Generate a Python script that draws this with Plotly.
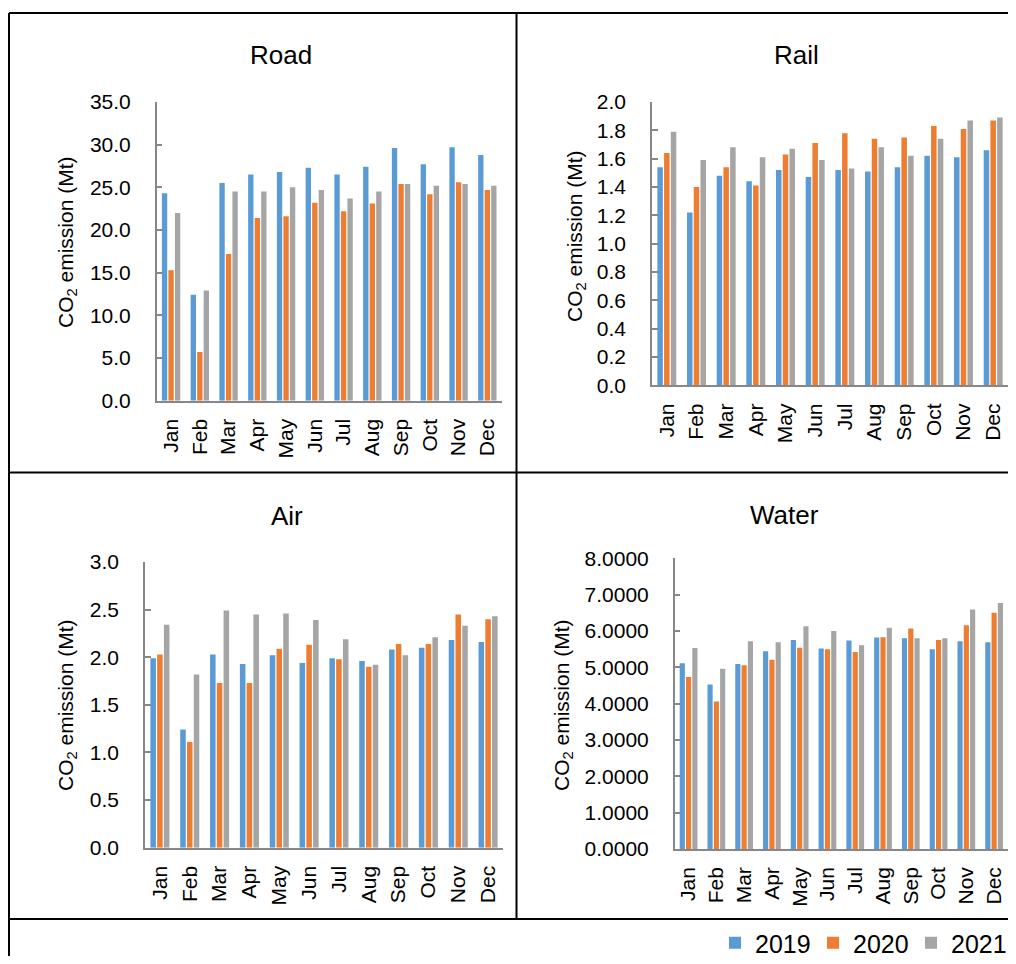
import plotly.graph_objects as go

months = ['Jan', 'Feb', 'Mar', 'Apr', 'May', 'Jun', 'Jul', 'Aug', 'Sep', 'Oct', 'Nov', 'Dec']
years = ['2019', '2020', '2021']

road_2019 = [24.3, 12.4, 25.5, 26.5, 26.8, 27.3, 26.5, 27.4, 29.6, 27.7, 29.7, 28.8]
road_2020 = [15.3, 5.7, 17.2, 21.4, 21.6, 23.2, 22.2, 23.1, 25.4, 24.2, 25.6, 24.7]
road_2021 = [22.0, 12.9, 24.5, 24.5, 25.0, 24.7, 23.7, 24.5, 25.4, 25.2, 25.4, 25.2]

rail_2019 = [1.54, 1.22, 1.48, 1.44, 1.52, 1.47, 1.52, 1.51, 1.54, 1.62, 1.61, 1.66]
rail_2020 = [1.64, 1.40, 1.54, 1.41, 1.63, 1.71, 1.78, 1.74, 1.75, 1.83, 1.81, 1.87]
rail_2021 = [1.79, 1.59, 1.68, 1.61, 1.67, 1.59, 1.53, 1.68, 1.62, 1.74, 1.87, 1.89]

air_2019 = [1.99, 1.24, 2.03, 1.93, 2.02, 1.94, 1.99, 1.96, 2.08, 2.10, 2.18, 2.16]
air_2020 = [2.03, 1.11, 1.73, 1.73, 2.09, 2.13, 1.98, 1.90, 2.14, 2.14, 2.45, 2.40]
air_2021 = [2.34, 1.82, 2.49, 2.45, 2.46, 2.39, 2.19, 1.92, 2.02, 2.21, 2.33, 2.43]

water_2019 = [5.11, 4.53, 5.09, 5.44, 5.75, 5.52, 5.74, 5.82, 5.80, 5.50, 5.72, 5.69]
water_2020 = [4.73, 4.06, 5.06, 5.21, 5.54, 5.50, 5.42, 5.83, 6.07, 5.75, 6.16, 6.50]
water_2021 = [5.53, 4.96, 5.72, 5.69, 6.13, 6.00, 5.61, 6.09, 5.80, 5.80, 6.59, 6.77]

panels = [
    ('Road', [road_2019, road_2020, road_2021], 35, 5, '.1f'),
    ('Rail', [rail_2019, rail_2020, rail_2021], 2.0, 0.2, '.1f'),
    ('Air', [air_2019, air_2020, air_2021], 3.0, 0.5, '.1f'),
    ('Water', [water_2019, water_2020, water_2021], 8.0, 1.0, '.4f'),
]

colors = ['#5B9BD5', '#ED7D31', '#A5A5A5']
FONT = 'Liberation Sans, Arial, sans-serif'

# page-pixel -> paper conversion (page body has 8px margin)
W, H, OFF = 1000, 948, 8
def X(px):
    return min(1.0, (px - OFF) / W)
def Y(py):
    return 1 - (py - OFF) / H

# plot-area boxes in page pixels: (left, right, top, bottom)
boxes = [
    (156.7, 501.7, 102, 400.7),
    (652, 1016, 102, 385.3),
    (145, 503, 562, 847.7),
    (674.7, 1016, 558.3, 849),
]
title_pos = [(281, 55), (796, 55), (287, 516), (784, 515)]
ytitle_pos = [(67, 242), (576, 236), (67, 705), (563, 705)]

fig = go.Figure()
layout = dict(
    width=W, height=H,
    margin=dict(l=0, r=0, t=0, b=0, autoexpand=False),
    paper_bgcolor='white', plot_bgcolor='white',
    font=dict(family=FONT, color='black', size=21),
    barmode='group', bargap=0.32, bargroupgap=0.18,
    showlegend=True,
)

annotations = []
for i, (name, series, ymax, dt, fmt) in enumerate(panels):
    n = '' if i == 0 else str(i + 1)
    for k, (vals, c, yr) in enumerate(zip(series, colors, years)):
        fig.add_trace(go.Bar(
            x=months, y=vals, name=yr, marker=dict(color=c, line=dict(width=0)),
            xaxis='x' + n, yaxis='y' + n, legendgroup=yr, showlegend=(i == 0),
        ))
    l, r, t, b = boxes[i]
    layout['xaxis' + n] = dict(
        domain=[X(l), X(r)], anchor='y' + n, type='category',
        showline=True, linecolor='#878787', linewidth=1.5,
        ticks='', tickangle=-90, tickfont=dict(size=21, family=FONT, color='black'),
        showgrid=False, zeroline=False, ticklabelstandoff=8,
    )
    layout['yaxis' + n] = dict(
        domain=[Y(b), Y(t)], anchor='x' + n, range=[0, ymax], dtick=dt, tick0=0,
        tickformat=fmt, showline=True, linecolor='#878787', linewidth=1.5,
        ticks='inside', ticklen=6, tickwidth=1.5, tickcolor='#878787',
        tickfont=dict(size=21, family=FONT, color='black'),
        showgrid=False, zeroline=False, ticklabelstandoff=20,
    )
    tx, ty = title_pos[i]
    annotations.append(dict(text=name, x=X(tx), y=Y(ty), xref='paper', yref='paper',
                            showarrow=False, xanchor='center', yanchor='middle',
                            font=dict(size=26, family=FONT, color='black')))
    ax, ay = ytitle_pos[i]
    annotations.append(dict(text='CO<sub>2</sub> emission (Mt)', x=X(ax), y=Y(ay),
                            xref='paper', yref='paper', showarrow=False, textangle=-90,
                            xanchor='center', yanchor='middle',
                            font=dict(size=21, family=FONT, color='black')))

lc = 'black'
shapes = [
    dict(type='line', xref='paper', yref='paper', x0=X(9), x1=1.02, y0=Y(13), y1=Y(13), line=dict(color=lc, width=2)),
    dict(type='line', xref='paper', yref='paper', x0=X(9), x1=X(9), y0=Y(13), y1=Y(980), line=dict(color=lc, width=2)),
    dict(type='line', xref='paper', yref='paper', x0=X(516.5), x1=X(516.5), y0=Y(13), y1=Y(919), line=dict(color=lc, width=2)),
    dict(type='line', xref='paper', yref='paper', x0=X(9), x1=1.02, y0=Y(472.5), y1=Y(472.5), line=dict(color=lc, width=2)),
    dict(type='line', xref='paper', yref='paper', x0=X(9), x1=1.02, y0=Y(919), y1=Y(919), line=dict(color=lc, width=2)),
]

layout['annotations'] = annotations
layout['shapes'] = shapes
layout['legend'] = dict(orientation='h', xref='container', yref='container',
                        xanchor='left', x=(715 - OFF) / W, yanchor='middle', y=Y(943),
                        font=dict(size=25, family=FONT, color='black'), bgcolor='rgba(0,0,0,0)',
                        itemwidth=30, tracegroupgap=0, entrywidth=53, entrywidthmode='pixels')
fig.update_layout(**layout)
fig.write_html('out.html')
